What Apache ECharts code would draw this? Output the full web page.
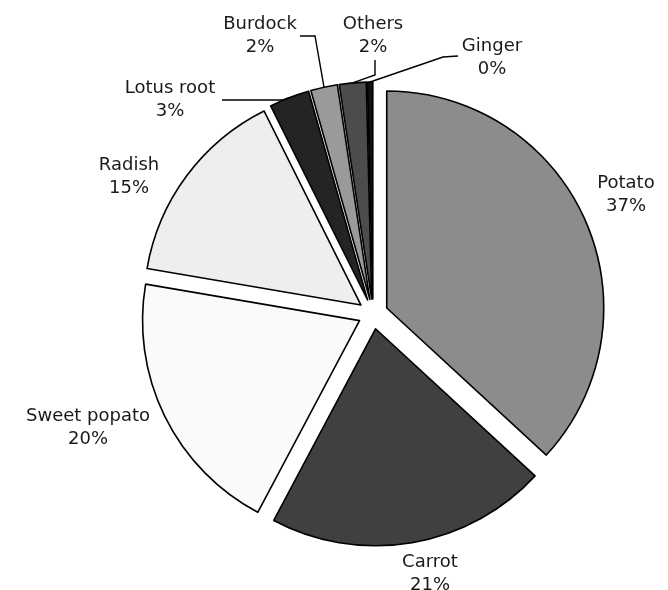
<!DOCTYPE html>
<html>
<head>
<meta charset="utf-8">
<script src="https://cdn.jsdelivr.net/npm/echarts@6/dist/echarts.min.js"></script>
<style>
  html, body { margin: 0; padding: 0; background: #ffffff; }
  #chart { width: 668px; height: 590px; }
</style>
</head>
<body>
<div id="chart"></div>
<script>
// Vegetable production share
const categories = ['Potato', 'Carrot', 'Sweet popato', 'Radish', 'Lotus root', 'Burdock', 'Others', 'Ginger'];
const shares = [37, 21, 20, 15, 3, 2, 2, 0.4];
const sliceColors = ['#8c8c8c', '#404040', '#fafafa', '#eeeeee', '#242424', '#9a9a9a', '#4c4c4c', '#111111'];

// Pie geometry
const CX = 373, CY = 314, RADIUS = 217, OFFSET = 15;

// Centre of each two-line label block
const labelCenters = [[626, 195], [430, 574], [88, 428], [129, 177], [170, 100], [260, 36], [373, 36], [492, 58]];
// Bend and end points of leader lines (only the thin slices get one)
const leaderBends = [null, null, null, null,
  [[283, 100], [222, 100]],
  [[315, 36], [300, 36]],
  [[375, 75], [375, 60]],
  [[443, 57], [458, 56]]];

const total = shares.reduce((a, b) => a + b, 0);

// Point on the outer arc of an exploded slice, at its middle angle
function arcPoint(i) {
  let before = 0;
  for (let k = 0; k < i; k++) before += shares[k];
  const mid = (before + shares[i] / 2) / total * 2 * Math.PI;
  const d = OFFSET + RADIUS;
  return [CX + d * Math.sin(mid), CY - d * Math.cos(mid)];
}

const chart = echarts.init(document.getElementById('chart'), null, { renderer: 'canvas' });

const common = {
  type: 'pie',
  center: [CX, CY],
  radius: RADIUS,
  startAngle: 90,
  clockwise: true,
  percentPrecision: 0,
  avoidLabelOverlap: false,
  emphasis: { disabled: true }
};

chart.setOption({
  backgroundColor: '#ffffff',
  animation: false,
  series: [
    // Exploded slices
    Object.assign({}, common, {
      selectedMode: 'multiple',
      selectedOffset: OFFSET,
      itemStyle: { borderColor: '#000000', borderWidth: 1.6 },
      select: { itemStyle: { borderColor: '#000000', borderWidth: 1.6 } },
      label: { show: false },
      labelLine: { show: false },
      data: categories.map((name, i) => ({
        name: name,
        value: shares[i],
        selected: true,
        itemStyle: { color: sliceColors[i] },
        select: { itemStyle: { color: sliceColors[i] } }
      }))
    }),
    // Labels and leader lines, laid over the same pie
    Object.assign({}, common, {
      silent: true,
      itemStyle: { color: 'rgba(0,0,0,0)', borderWidth: 0 },
      label: {
        show: true,
        position: 'outside',
        formatter: '{b}\n{d}%',
        fontFamily: 'DejaVu Sans',
        fontSize: 18,
        lineHeight: 23,
        color: '#1a1a1a',
        align: 'center'
      },
      labelLine: { show: true, lineStyle: { color: '#000000', width: 1.4 } },
      labelLayout: function (params) {
        const i = params.dataIndex;
        const c = labelCenters[i];
        const out = { x: c[0], y: c[1], align: 'center', verticalAlign: 'middle' };
        if (leaderBends[i]) out.labelLinePoints = [arcPoint(i)].concat(leaderBends[i]);
        return out;
      },
      data: categories.map((name, i) => ({
        name: name,
        value: shares[i],
        labelLine: { show: !!leaderBends[i] }
      }))
    })
  ]
});
</script>
</body>
</html>
